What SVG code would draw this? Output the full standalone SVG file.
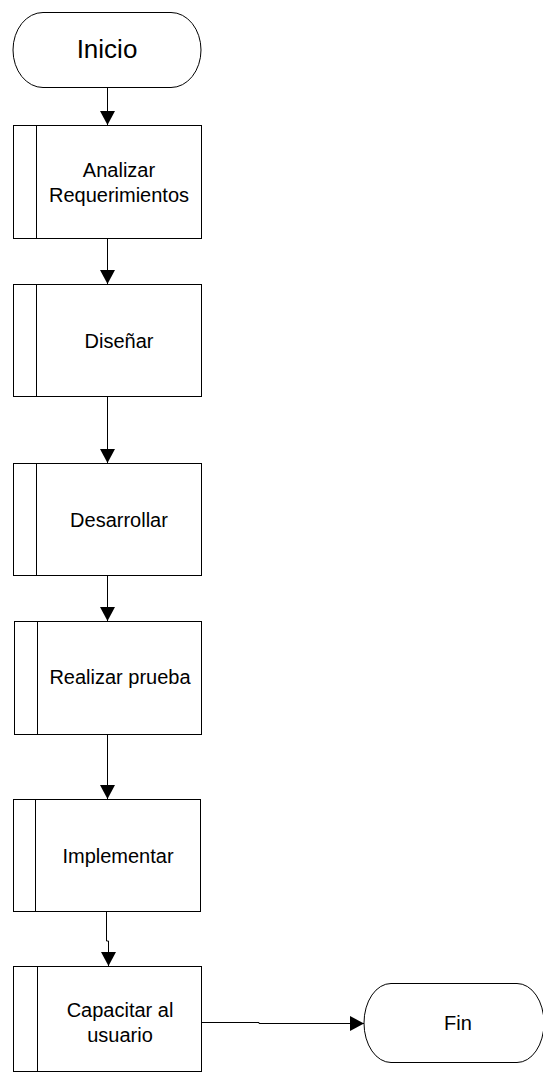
<svg xmlns="http://www.w3.org/2000/svg" width="543" height="1072" viewBox="0 0 543 1072">
  <style>
    .shape { fill: #ffffff; stroke: #000000; stroke-width: 1; }
    .bar { stroke: #000000; stroke-width: 1; fill: none; }
    .label { font-family: "Liberation Sans", Arial, sans-serif; font-size: 20px; fill: #000000; text-anchor: middle; }
    .term { font-family: "Liberation Sans", Arial, sans-serif; fill: #000000; text-anchor: middle; }
    .flow { fill: none; stroke: #000000; stroke-width: 1; }
  </style>
  <defs>
    <marker id="arrow" markerUnits="userSpaceOnUse" markerWidth="15" markerHeight="15" refX="14" refY="7.5" orient="auto">
      <path d="M0,0 L14,7.5 L0,15 Z" fill="#000000"/>
    </marker>
  </defs>
  <rect width="543" height="1072" fill="#ffffff"/>

  <!-- connectors -->
  <g id="connectors">
    <path class="flow" d="M107.5,87 V125" marker-end="url(#arrow)"/>
    <path class="flow" d="M107.5,239 V284" marker-end="url(#arrow)"/>
    <path class="flow" d="M107.5,397 V463" marker-end="url(#arrow)"/>
    <path class="flow" d="M107.5,576 V621" marker-end="url(#arrow)"/>
    <path class="flow" d="M107.5,735 V799" marker-end="url(#arrow)"/>
    <path class="flow" d="M106.5,912 V941 H108.5 V966" marker-end="url(#arrow)"/>
    <path class="flow" d="M202,1022.5 H259 V1023.5 H364" marker-end="url(#arrow)"/>
  </g>

  <!-- start terminator -->
  <g id="inicio">
    <path class="shape" d="M43,12.5 H171 A30,37.5 0 0 1 171,87.5 H43 A30,37.5 0 0 1 43,12.5 Z"/>
    <text class="term" x="107" y="58" font-size="26">Inicio</text>
  </g>

  <!-- process steps -->
  <g id="analizar">
    <rect class="shape" x="13.5" y="125.5" width="188" height="113"/>
    <line class="bar" x1="36.5" y1="125.5" x2="36.5" y2="238.5"/>
    <text class="label" x="119" y="177">Analizar</text>
    <text class="label" x="119" y="201.5">Requerimientos</text>
  </g>

  <g id="disenar">
    <rect class="shape" x="13.5" y="284.5" width="188" height="112"/>
    <line class="bar" x1="36.5" y1="284.5" x2="36.5" y2="396.5"/>
    <text class="label" x="119" y="348">Diseñar</text>
  </g>

  <g id="desarrollar">
    <rect class="shape" x="13.5" y="463.5" width="188" height="112"/>
    <line class="bar" x1="36.5" y1="463.5" x2="36.5" y2="575.5"/>
    <text class="label" x="119" y="527">Desarrollar</text>
  </g>

  <g id="prueba">
    <rect class="shape" x="14.5" y="621.5" width="187" height="113"/>
    <line class="bar" x1="37.5" y1="621.5" x2="37.5" y2="734.5"/>
    <text class="label" x="120" y="684">Realizar prueba</text>
  </g>

  <g id="implementar">
    <rect class="shape" x="13.5" y="799.5" width="187" height="112"/>
    <line class="bar" x1="35.5" y1="799.5" x2="35.5" y2="911.5"/>
    <text class="label" x="118" y="863">Implementar</text>
  </g>

  <g id="capacitar">
    <rect class="shape" x="13.5" y="966.5" width="188" height="105"/>
    <line class="bar" x1="37.5" y1="966.5" x2="37.5" y2="1071.5"/>
    <text class="label" x="120" y="1017">Capacitar al</text>
    <text class="label" x="120" y="1041.5">usuario</text>
  </g>

  <!-- end terminator -->
  <g id="fin">
    <path class="shape" d="M391,983.5 H517 A27,39.5 0 0 1 517,1062.5 H391 A27,39.5 0 0 1 391,983.5 Z"/>
    <text class="term" x="458" y="1030" font-size="20">Fin</text>
  </g>
</svg>
